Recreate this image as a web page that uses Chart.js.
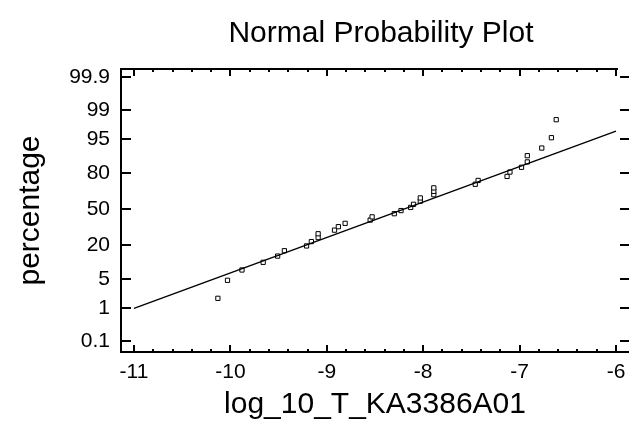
<!DOCTYPE html>
<html>
<head>
<meta charset="utf-8">
<script src="https://cdn.jsdelivr.net/npm/chart.js@4.4.1/dist/chart.umd.min.js"></script>
<style>
  html, body { margin: 0; padding: 0; background: #fff; }
</style>
</head>
<body>
<canvas id="chart" width="629" height="435"></canvas>
<script>
// data
const chartTitle = "Normal Probability Plot";
const xTitle = "log_10_T_KA3386A01";
const yTitle = "percentage";

const xValues = [-10.13, -10.03, -9.88, -9.66, -9.51, -9.44, -9.21, -9.16, -9.09, -9.09,
  -8.92, -8.88, -8.81, -8.55, -8.53, -8.30, -8.23, -8.13, -8.10, -8.03,
  -8.03, -7.89, -7.89, -7.89, -7.46, -7.43, -7.13, -7.10, -6.98, -6.92,
  -6.92, -6.77, -6.67, -6.62];
const pctValues = [1.82, 4.74, 7.66, 10.58, 13.50, 16.42, 19.34, 22.26, 25.18, 28.10,
  31.02, 33.94, 36.86, 39.78, 42.70, 45.62, 48.54, 51.46, 54.38, 57.30,
  60.22, 63.14, 66.06, 68.98, 71.90, 74.82, 77.74, 80.66, 83.58, 86.50,
  89.42, 92.34, 95.26, 98.18];

// fitted normal line, end points
const fitX = [-11, -6];
const fitPct = [1.0, 96.6];

const xTicks = [-11, -10, -9, -8, -7, -6];
const yTicks = [0.1, 1, 5, 20, 50, 80, 95, 99, 99.9];

const FONT = "'Liberation Sans', Arial, sans-serif";

// inverse normal cdf (Acklam)
function probit(p) {
  const a = [-39.69683028665376, 220.9460984245205, -275.9285104469687, 138.3577518672690, -30.66479806614716, 2.506628277459239];
  const b = [-54.47609879822406, 161.5858368580409, -155.6989798598866, 66.80131188771972, -13.28068155288572];
  const c = [-0.007784894002430293, -0.3223964580411365, -2.400758277161838, -2.549732539343734, 4.374664141464968, 2.938163982698783];
  const d = [0.007784695709041462, 0.3224671290700398, 2.445134137142996, 3.754408661907416];
  const pl = 0.02425;
  let q, r;
  if (p < pl) {
    q = Math.sqrt(-2 * Math.log(p));
    return (((((c[0]*q+c[1])*q+c[2])*q+c[3])*q+c[4])*q+c[5]) / ((((d[0]*q+d[1])*q+d[2])*q+d[3])*q+1);
  }
  if (p > 1 - pl) {
    q = Math.sqrt(-2 * Math.log(1 - p));
    return -(((((c[0]*q+c[1])*q+c[2])*q+c[3])*q+c[4])*q+c[5]) / ((((d[0]*q+d[1])*q+d[2])*q+d[3])*q+1);
  }
  q = p - 0.5;
  r = q * q;
  return (((((a[0]*r+a[1])*r+a[2])*r+a[3])*r+a[4])*r+a[5])*q / (((((b[0]*r+b[1])*r+b[2])*r+b[3])*r+b[4])*r+1);
}

// frame, inward ticks and title
const framePlugin = {
  id: "frame",
  afterDraw(chart) {
    const { ctx, chartArea: a, scales: { x, y } } = chart;
    ctx.save();
    ctx.strokeStyle = "#000";
    ctx.lineWidth = 2;
    ctx.beginPath();
    ctx.moveTo(a.left, a.top);
    ctx.lineTo(a.right - 11, a.top);
    // x ticks, major + minor, bottom and top
    for (let i = 0; i < xTicks.length; i++) {
      const px = Math.round(x.getPixelForValue(xTicks[i]));
      ctx.moveTo(px, a.bottom); ctx.lineTo(px, a.bottom - 7);
      ctx.moveTo(px, a.top); ctx.lineTo(px, a.top + 7);
      if (i < xTicks.length - 1) {
        for (let k = 1; k < 5; k++) {
          const m = Math.round(x.getPixelForValue(xTicks[i] + k * (xTicks[i + 1] - xTicks[i]) / 5));
          ctx.moveTo(m, a.bottom); ctx.lineTo(m, a.bottom - 3);
          ctx.moveTo(m, a.top); ctx.lineTo(m, a.top + 3);
        }
      }
    }
    // y ticks, left and right
    yTicks.forEach(p => {
      const py = Math.round(y.getPixelForValue(probit(p / 100)));
      ctx.moveTo(a.left, py); ctx.lineTo(a.left + 10, py);
      ctx.moveTo(a.right - 9, py); ctx.lineTo(a.right, py);
    });
    ctx.stroke();

    ctx.fillStyle = "#000";
    ctx.font = "30px " + FONT;
    ctx.textAlign = "center";
    ctx.textBaseline = "middle";
    ctx.fillText(chartTitle, (a.left + a.right) / 2 + 6, 34);
    ctx.restore();
  }
};

const chart = new Chart(document.getElementById("chart"), {
  type: "scatter",
  data: {
    datasets: [
      {
        data: fitX.map((v, i) => ({ x: v, y: probit(fitPct[i] / 100) })),
        showLine: true,
        borderColor: "#000",
        borderWidth: 1.4,
        pointRadius: 0
      },
      {
        data: xValues.map((v, i) => ({ x: v, y: probit(pctValues[i] / 100) })),
        pointStyle: "rect",
        pointRadius: 3,
        borderColor: "#000",
        borderWidth: 1,
        backgroundColor: "#fff"
      }
    ]
  },
  options: {
    responsive: false,
    devicePixelRatio: 1,
    animation: false,
    layout: { autoPadding: false, padding: { top: 69, right: 0, left: 0, bottom: 0 } },
    plugins: { legend: { display: false }, tooltip: { enabled: false } },
    scales: {
      x: {
        type: "linear",
        min: -11.135,
        max: -5.865,
        afterBuildTicks: s => { s.ticks = xTicks.map(v => ({ value: v })); },
        afterFit: s => { s.height = 83; s.paddingLeft = 0; s.paddingRight = 0; },
        grid: { display: false, drawTicks: false },
        border: { display: true, color: "#000", width: 2 },
        ticks: { color: "#000", font: { family: FONT, size: 21 }, padding: 8, maxRotation: 0, callback: v => String(v) },
        title: { display: true, text: xTitle, color: "#000", font: { family: FONT, size: 30 }, padding: { top: 0, bottom: 12 } }
      },
      y: {
        type: "linear",
        min: -3.35,
        max: 3.28,
        afterBuildTicks: s => { s.ticks = yTicks.map(p => ({ value: probit(p / 100) })); },
        afterFit: s => { s.width = 121; s.paddingTop = 0; s.paddingBottom = 0; },
        grid: { display: false, drawTicks: false },
        border: { display: true, color: "#000", width: 2 },
        ticks: { color: "#000", font: { family: FONT, size: 21 }, padding: 11, callback: (v, i) => String(yTicks[i]) },
        title: { display: true, text: yTitle, color: "#000", font: { family: FONT, size: 30 }, padding: { top: 13, bottom: 0 } }
      }
    }
  },
  plugins: [framePlugin]
});
</script>
</body>
</html>
